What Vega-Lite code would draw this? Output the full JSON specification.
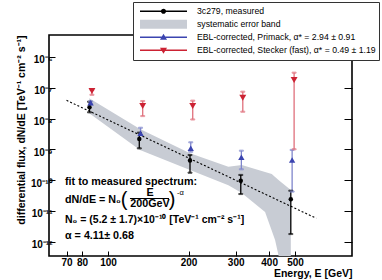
{
  "$schema": "https://vega.github.io/schema/vega-lite/v6.json",
  "width": 303,
  "height": 221,
  "autosize": {"type": "none"},
  "padding": {"left": 49, "top": 35, "right": 30, "bottom": 24},
  "config": {
    "font": "Liberation Sans",
    "view": {"stroke": "#000", "strokeWidth": 1.6},
    "axis": {"grid": false, "domain": false, "tickColor": "#000", "labelColor": "#000", "titleColor": "#000"}
  },
  "datasets": {
    "pts": [
      {"series": "3c279, measured", "E": 85.3, "f": 2.31e-8, "lo": 1.59e-8, "hi": 3.52e-8},
      {"series": "3c279, measured", "E": 130.9, "f": 2.15e-9, "lo": 1.07e-9, "hi": 3.47e-9},
      {"series": "3c279, measured", "E": 202.5, "f": 4.3e-10, "lo": 1.73e-10, "hi": 6.5e-10},
      {"series": "3c279, measured", "E": 313.4, "f": 9.5e-11, "lo": 3.5e-11, "hi": 1.46e-10},
      {"series": "3c279, measured", "E": 482, "f": 2.36e-11, "lo": 1.75e-12, "hi": 4.47e-11},
      {"series": "EBL-corrected,  Primack, α* = 2.94 ± 0.91", "E": 86.1, "f": 3.27e-8, "lo": 2.9e-8, "hi": 3.6e-8},
      {"series": "EBL-corrected,  Primack, α* = 2.94 ± 0.91", "E": 132.3, "f": 3.3e-9, "lo": 2.9e-9, "hi": 5.0e-9},
      {"series": "EBL-corrected,  Primack, α* = 2.94 ± 0.91", "E": 203.8, "f": 1.07e-9, "lo": 8.3e-10, "hi": 1.68e-9},
      {"series": "EBL-corrected,  Primack, α* = 2.94 ± 0.91", "E": 315, "f": 5.47e-10, "lo": 2.23e-10, "hi": 8.97e-10},
      {"series": "EBL-corrected,  Primack, α* = 2.94 ± 0.91", "E": 487.5, "f": 4.5e-10, "lo": 4.2e-11, "hi": 9.5e-10},
      {"series": "EBL-corrected, Stecker (fast), α* = 0.49 ± 1.19", "E": 87.1, "f": 7.83e-8, "lo": 5.9e-8, "hi": 8.5e-8},
      {"series": "EBL-corrected, Stecker (fast), α* = 0.49 ± 1.19", "E": 134.8, "f": 2.55e-8, "lo": 1.2e-8, "hi": 3.7e-8},
      {"series": "EBL-corrected, Stecker (fast), α* = 0.49 ± 1.19", "E": 207.3, "f": 2.55e-8, "lo": 9.3e-9, "hi": 3.8e-8},
      {"series": "EBL-corrected, Stecker (fast), α* = 0.49 ± 1.19", "E": 318.9, "f": 4.75e-8, "lo": 1.66e-8, "hi": 7.45e-8},
      {"series": "EBL-corrected, Stecker (fast), α* = 0.49 ± 1.19", "E": 495.9, "f": 1.79e-7, "lo": 1.0e-9, "hi": 3.09e-7}
    ],
    "band": [
      {"E": 85.1, "hi": 4.54e-8, "lo": 1.48e-8},
      {"E": 131.7, "hi": 4.56e-9, "lo": 9.46e-10},
      {"E": 202.5, "hi": 7.38e-10, "lo": 2.11e-10},
      {"E": 281.7, "hi": 2.71e-10, "lo": 6.73e-11},
      {"E": 316.1, "hi": 3.08e-10, "lo": 3.78e-11},
      {"E": 386.3, "hi": 1.82e-10, "lo": 9.1e-12},
      {"E": 409.2, "hi": 1.57e-10, "lo": 2.23e-12},
      {"E": 421.0, "hi": 1.26e-10, "lo": 1.12e-12},
      {"E": 435.8, "hi": 9.7e-11, "lo": 2.9e-13},
      {"E": 482, "hi": 4.73e-11, "lo": 1e-14}
    ],
    "fit": [
      {"E": 70, "f": 3.89e-8},
      {"E": 600, "f": 5.69e-12}
    ]
  },
  "resolve": {"axis": {"x": "independent", "y": "independent"}},
  "layer": [
    {
      "data": {"name": "band"},
      "mark": {"type": "area", "color": "#c8ccd4", "opacity": 1, "clip": true},
      "encoding": {
        "x": {"field": "E", "type": "quantitative", "scale": {"type": "log", "domain": [60.2, 816], "nice": false},
          "axis": {"orient": "bottom", "values": [70, 80, 100, 200, 300, 400, 500], "format": "d", "tickSize": -5, "tickWidth": 1,
            "labelFontSize": 10, "labelFontWeight": "bold", "labelPadding": 6, "labelOverlap": false, "labelFlush": false,
            "title": "Energy, E [GeV]", "titleFontSize": 10.5, "titleFontWeight": "bold", "titleAnchor": "end", "titlePadding": 1}},
        "y": {"field": "hi", "type": "quantitative", "scale": {"type": "log", "domain": [3.38e-13, 5.19e-6], "nice": false},
          "axis": {"orient": "left", "values": [1e-12, 1e-11, 1e-10, 1e-9, 1e-8, 1e-7, 1e-6], "tickSize": -6, "tickWidth": 1,
            "labelExpr": "datum.value < 5e-12 ? '10⁻¹²' : datum.value < 5e-11 ? '10⁻¹¹' : datum.value < 5e-10 ? '10⁻¹⁰' : datum.value < 5e-9 ? '10⁻⁹' : datum.value < 5e-8 ? '10⁻⁸' : datum.value < 5e-7 ? '10⁻⁷' : '10⁻⁶'",
            "labelFontSize": 10, "labelFontWeight": "bold", "labelPadding": 3, "labelOffset": 3, "labelOverlap": false, "labelFlush": false,
            "title": "differential flux, dN/dE [TeV⁻¹ cm⁻² s⁻¹]", "titleFontSize": 10.5, "titleFontWeight": "bold", "titleAnchor": "end", "titlePadding": 4}},
        "y2": {"field": "lo"}
      }
    },
    {
      "data": {"name": "fit"},
      "mark": {"type": "line", "color": "#000", "strokeDash": [2, 2], "strokeWidth": 1.1},
      "encoding": {
        "x": {"field": "E", "type": "quantitative", "scale": {"type": "log", "domain": [60.2, 816], "nice": false}, "axis": null},
        "y": {"field": "f", "type": "quantitative", "scale": {"type": "log", "domain": [3.38e-13, 5.19e-6], "nice": false},
          "axis": {"orient": "right", "values": [1e-12, 1e-11, 1e-10, 1e-9, 1e-8, 1e-7, 1e-6], "tickSize": -8, "tickWidth": 1, "labels": false, "title": null}}
      }
    },
    {
      "data": {"name": "pts"},
      "mark": {"type": "rule", "strokeWidth": 1.3},
      "encoding": {
        "x": {"field": "E", "type": "quantitative", "scale": {"type": "log", "domain": [60.2, 816], "nice": false}, "axis": null},
        "y": {"field": "lo", "type": "quantitative", "scale": {"type": "log", "domain": [3.38e-13, 5.19e-6], "nice": false}, "axis": null},
        "y2": {"field": "hi"},
        "stroke": {"field": "series", "type": "nominal", "legend": null,
          "scale": {"domain": ["3c279, measured", "EBL-corrected,  Primack, α* = 2.94 ± 0.91", "EBL-corrected, Stecker (fast), α* = 0.49 ± 1.19"],
            "range": ["#000000", "#7f86cc", "#e0707c"]}}
      }
    },
    {
      "data": {"name": "pts"},
      "transform": [{"fold": ["lo", "hi"], "as": ["end", "v"]}],
      "mark": {"type": "tick", "orient": "horizontal", "size": 4, "thickness": 1.1},
      "encoding": {
        "x": {"field": "E", "type": "quantitative", "scale": {"type": "log", "domain": [60.2, 816], "nice": false}, "axis": null},
        "y": {"field": "v", "type": "quantitative", "scale": {"type": "log", "domain": [3.38e-13, 5.19e-6], "nice": false}, "axis": null},
        "stroke": {"field": "series", "type": "nominal", "legend": null,
          "scale": {"domain": ["3c279, measured", "EBL-corrected,  Primack, α* = 2.94 ± 0.91", "EBL-corrected, Stecker (fast), α* = 0.49 ± 1.19"],
            "range": ["#000000", "#7f86cc", "#e0707c"]}},
        "fill": {"field": "series", "type": "nominal", "legend": null,
          "scale": {"domain": ["3c279, measured", "EBL-corrected,  Primack, α* = 2.94 ± 0.91", "EBL-corrected, Stecker (fast), α* = 0.49 ± 1.19"],
            "range": ["#000000", "#7f86cc", "#e0707c"]}}
      }
    },
    {
      "data": {"name": "pts"},
      "transform": [{"filter": "datum.series === '3c279, measured'"}],
      "mark": {"type": "point", "filled": true, "opacity": 1, "shape": "circle", "size": 20, "color": "#000000"},
      "encoding": {
        "x": {"field": "E", "type": "quantitative", "scale": {"type": "log", "domain": [60.2, 816], "nice": false}, "axis": null},
        "y": {"field": "f", "type": "quantitative", "scale": {"type": "log", "domain": [3.38e-13, 5.19e-6], "nice": false}, "axis": null}
      }
    },
    {
      "data": {"name": "pts"},
      "transform": [{"filter": "indexof(datum.series, 'Primack') >= 0"}],
      "mark": {"type": "point", "filled": true, "opacity": 1, "shape": "triangle-up", "size": 40, "color": "#3b44b0"},
      "encoding": {
        "x": {"field": "E", "type": "quantitative", "scale": {"type": "log", "domain": [60.2, 816], "nice": false}, "axis": null},
        "y": {"field": "f", "type": "quantitative", "scale": {"type": "log", "domain": [3.38e-13, 5.19e-6], "nice": false}, "axis": null}
      }
    },
    {
      "data": {"name": "pts"},
      "transform": [{"filter": "indexof(datum.series, 'Stecker') >= 0"}],
      "mark": {"type": "point", "filled": true, "opacity": 1, "shape": "triangle-down", "size": 48, "color": "#cc2233"},
      "encoding": {
        "x": {"field": "E", "type": "quantitative", "scale": {"type": "log", "domain": [60.2, 816], "nice": false}, "axis": null},
        "y": {"field": "f", "type": "quantitative", "scale": {"type": "log", "domain": [3.38e-13, 5.19e-6], "nice": false}, "axis": null}
      }
    },
    {
      "data": {"name": "pts"},
      "mark": {"type": "point", "filled": true, "opacity": 1, "clip": true},
      "encoding": {
        "x": {"field": "E", "type": "quantitative", "scale": {"type": "log", "domain": [60.2, 816], "nice": false}, "axis": null},
        "y": {"datum": 1e-20, "type": "quantitative", "scale": {"type": "log", "domain": [3.38e-13, 5.19e-6], "nice": false}, "axis": null},
        "color": {"field": "series", "type": "nominal",
          "scale": {"domain": ["3c279, measured", "systematic error band", "EBL-corrected,  Primack, α* = 2.94 ± 0.91", "EBL-corrected, Stecker (fast), α* = 0.49 ± 1.19"],
            "range": ["#000000", "#c8ccd4", "#3b44b0", "#cc2233"]},
          "legend": {"title": null, "orient": "none", "legendX": 84, "legendY": -33,
            "strokeColor": "#333", "fillColor": "#ffffff", "padding": 3,
            "symbolSize": 2209, "symbolStrokeWidth": 0, "symbolOffset": 4, "labelOffset": 10, "symbolOpacity": 1,
            "clipHeight": 12.5, "rowPadding": 0, "labelFontSize": 8.7, "labelLimit": 300, "labelColor": "#000"}},
        "shape": {"field": "series", "type": "nominal",
          "scale": {"domain": ["3c279, measured", "systematic error band", "EBL-corrected,  Primack, α* = 2.94 ± 0.91", "EBL-corrected, Stecker (fast), α* = 0.49 ± 1.19"],
            "range": [
              "M-1,-0.028H1V0.028H-1Z M-0.11,0A0.11,0.11 0 1,1 0.11,0A0.11,0.11 0 1,1 -0.11,0Z",
              "M-1,-0.19H1V0.19H-1Z",
              "M-1,-0.028H1V0.028H-1Z M0,-0.15L0.15,0.11L-0.15,0.11Z",
              "M-1,-0.028H1V0.028H-1Z M0,0.15L-0.15,-0.11L0.15,-0.11Z"
            ]},
          "legend": {"title": null, "orient": "none", "legendX": 84, "legendY": -33,
            "strokeColor": "#333", "fillColor": "#ffffff", "padding": 3,
            "symbolSize": 2209, "symbolStrokeWidth": 0, "symbolOffset": 4, "labelOffset": 10, "symbolOpacity": 1,
            "clipHeight": 12.5, "rowPadding": 0, "labelFontSize": 8.7, "labelLimit": 300, "labelColor": "#000"}}
      }
    },
    {
      "data": {"values": [{}]},
      "mark": {"type": "text", "align": "left", "fontWeight": "bold", "fontSize": 10.75, "color": "#000"},
      "encoding": {
        "x": {"datum": 69.1, "type": "quantitative", "scale": {"type": "log", "domain": [60.2, 816], "nice": false}, "axis": null},
        "y": {"datum": 8.3e-11, "type": "quantitative", "scale": {"type": "log", "domain": [3.38e-13, 5.19e-6], "nice": false}, "axis": null},
        "text": {"value": "fit to measured spectrum:"}
      }
    },
    {
      "data": {"values": [{}]},
      "mark": {"type": "text", "align": "left", "fontWeight": "bold", "fontSize": 10.75, "color": "#000"},
      "encoding": {
        "x": {"datum": 69.1, "type": "quantitative", "scale": {"type": "log", "domain": [60.2, 816], "nice": false}, "axis": null},
        "y": {"datum": 2.24e-11, "type": "quantitative", "scale": {"type": "log", "domain": [3.38e-13, 5.19e-6], "nice": false}, "axis": null},
        "text": {"value": "dN/dE = N₀"}
      }
    },
    {
      "data": {"values": [{}]},
      "mark": {"type": "text", "align": "center", "fontWeight": "normal", "fontSize": 20, "color": "#000"},
      "encoding": {
        "x": {"datum": 114.8, "type": "quantitative", "scale": {"type": "log", "domain": [60.2, 816], "nice": false}, "axis": null},
        "y": {"datum": 2.24e-11, "type": "quantitative", "scale": {"type": "log", "domain": [3.38e-13, 5.19e-6], "nice": false}, "axis": null},
        "text": {"value": "("}
      }
    },
    {
      "data": {"values": [{}]},
      "mark": {"type": "text", "align": "center", "fontWeight": "normal", "fontSize": 20, "color": "#000"},
      "encoding": {
        "x": {"datum": 173.5, "type": "quantitative", "scale": {"type": "log", "domain": [60.2, 816], "nice": false}, "axis": null},
        "y": {"datum": 2.24e-11, "type": "quantitative", "scale": {"type": "log", "domain": [3.38e-13, 5.19e-6], "nice": false}, "axis": null},
        "text": {"value": ")"}
      }
    },
    {
      "data": {"values": [{}]},
      "mark": {"type": "text", "align": "center", "fontWeight": "bold", "fontSize": 10.75, "color": "#000"},
      "encoding": {
        "x": {"datum": 143.5, "type": "quantitative", "scale": {"type": "log", "domain": [60.2, 816], "nice": false}, "axis": null},
        "y": {"datum": 3.78e-11, "type": "quantitative", "scale": {"type": "log", "domain": [3.38e-13, 5.19e-6], "nice": false}, "axis": null},
        "text": {"value": "E"}
      }
    },
    {
      "data": {"values": [{}]},
      "mark": {"type": "text", "align": "center", "fontWeight": "bold", "fontSize": 10.75, "color": "#000"},
      "encoding": {
        "x": {"datum": 143.5, "type": "quantitative", "scale": {"type": "log", "domain": [60.2, 816], "nice": false}, "axis": null},
        "y": {"datum": 1.6e-11, "type": "quantitative", "scale": {"type": "log", "domain": [3.38e-13, 5.19e-6], "nice": false}, "axis": null},
        "text": {"value": "200GeV"}
      }
    },
    {
      "data": {"values": [{}]},
      "mark": {"type": "rule", "color": "#000", "strokeWidth": 1.1},
      "encoding": {
        "x": {"datum": 120.8, "type": "quantitative", "scale": {"type": "log", "domain": [60.2, 816], "nice": false}, "axis": null},
        "x2": {"datum": 169},
        "y": {"datum": 2.5e-11, "type": "quantitative", "scale": {"type": "log", "domain": [3.38e-13, 5.19e-6], "nice": false}, "axis": null}
      }
    },
    {
      "data": {"values": [{}]},
      "mark": {"type": "text", "align": "left", "fontWeight": "normal", "fontSize": 7.5, "color": "#000"},
      "encoding": {
        "x": {"datum": 181.1, "type": "quantitative", "scale": {"type": "log", "domain": [60.2, 816], "nice": false}, "axis": null},
        "y": {"datum": 3.92e-11, "type": "quantitative", "scale": {"type": "log", "domain": [3.38e-13, 5.19e-6], "nice": false}, "axis": null},
        "text": {"value": "-α"}
      }
    },
    {
      "data": {"values": [{}]},
      "mark": {"type": "text", "align": "left", "fontWeight": "bold", "fontSize": 10.5, "color": "#000"},
      "encoding": {
        "x": {"datum": 69.1, "type": "quantitative", "scale": {"type": "log", "domain": [60.2, 816], "nice": false}, "axis": null},
        "y": {"datum": 5.0e-12, "type": "quantitative", "scale": {"type": "log", "domain": [3.38e-13, 5.19e-6], "nice": false}, "axis": null},
        "text": {"value": "N₀ = (5.2 ± 1.7)×10⁻¹⁰ [TeV⁻¹ cm⁻² s⁻¹]"}
      }
    },
    {
      "data": {"values": [{}]},
      "mark": {"type": "text", "align": "left", "fontWeight": "bold", "fontSize": 10.75, "color": "#000"},
      "encoding": {
        "x": {"datum": 69.1, "type": "quantitative", "scale": {"type": "log", "domain": [60.2, 816], "nice": false}, "axis": null},
        "y": {"datum": 1.55e-12, "type": "quantitative", "scale": {"type": "log", "domain": [3.38e-13, 5.19e-6], "nice": false}, "axis": null},
        "text": {"value": "α = 4.11± 0.68"}
      }
    }
  ]
}
